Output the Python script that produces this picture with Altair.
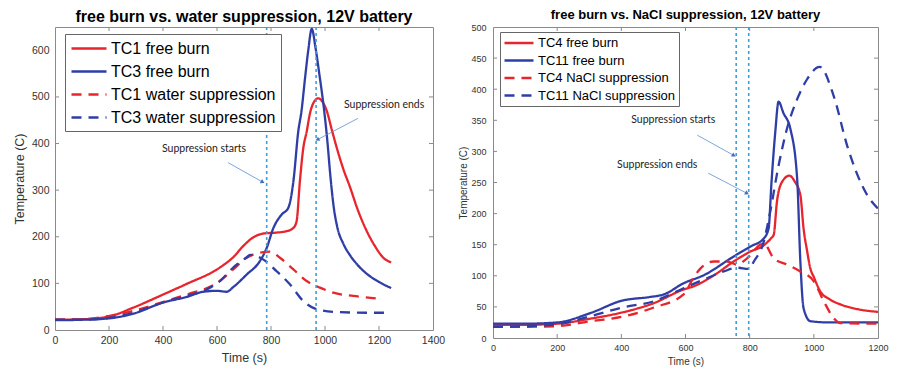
import altair as alt
import pandas as pd

# ---------------- data: left panel (water suppression) ----------------
L_SERIES = ["TC1 free burn", "TC3 free burn", "TC1 water suppression", "TC3 water suppression"]

tc1_free_t = [0, 100, 200, 290, 400, 488, 600, 623, 660, 697, 735, 772, 821, 858, 883, 895, 907, 920, 932, 944, 960, 975, 990, 1006, 1025, 1043, 1068, 1093, 1120, 1154, 1185, 1216, 1245]
tc1_free_v = [22, 23, 29, 48, 76, 99, 130, 139, 156, 180, 199, 207, 209, 212, 219, 234, 319, 392, 425, 464, 490, 497, 490, 471, 430, 392, 345, 306, 260, 213, 180, 155, 145]

tc3_free_t = [0, 100, 200, 290, 400, 488, 549, 600, 636, 660, 710, 759, 784, 809, 840, 864, 883, 901, 913, 926, 938, 951, 965, 980, 995, 1008, 1020, 1032, 1045, 1068, 1093, 1120, 1154, 1200, 1245]
tc3_free_v = [21, 22, 25, 35, 59, 71, 82, 84, 82, 92, 119, 148, 176, 219, 248, 262, 319, 426, 470, 540, 600, 646, 605, 545, 480, 410, 330, 265, 222, 185, 160, 140, 121, 103, 90]

tc1_water_t = [0, 100, 198, 290, 400, 488, 600, 660, 710, 759, 796, 833, 883, 932, 981, 1031, 1105, 1204]
tc1_water_v = [22, 23, 30, 41, 60, 76, 101, 130, 155, 166, 168, 155, 130, 105, 91, 80, 73, 67]

tc3_water_t = [0, 100, 200, 290, 400, 488, 562, 611, 660, 710, 722, 772, 821, 870, 920, 963, 1031, 1154, 1228]
tc3_water_v = [22, 22, 26, 37, 59, 73, 87, 105, 134, 156, 161, 151, 126, 98, 62, 46, 39, 37, 37]

L_VLINES = [784, 967]
L_XTICKS = [0, 200, 400, 600, 800, 1000, 1200, 1400]
L_YTICKS = [0, 100, 200, 300, 400, 500, 600]
L_NOTE_TEXT = ["Suppression starts", "Suppression ends"]
L_NOTE_T = [552, 1219]
L_NOTE_V = [389, 482]
L_ARROW_T1 = [641, 1122]
L_ARROW_V1 = [359, 454]
L_ARROW_T2 = [767, 974]
L_ARROW_V2 = [318, 409]
L_ARROW_ANG = [119, 242]

# ---------------- data: right panel (NaCl suppression) ----------------
R_SERIES = ["TC4 free burn", "TC11 free burn", "TC4 NaCl suppression", "TC11 NaCl suppression"]

tc4_free_t = [0, 75, 200, 303, 402, 501, 594, 625, 657, 698, 750, 802, 844, 866, 875, 885, 901, 924, 940, 958, 968, 979, 989, 1000, 1020, 1050, 1083, 1140, 1200]
tc4_free_v = [21, 21, 23, 31, 41, 56, 78, 83, 91, 104, 123, 139, 149, 160, 166, 219, 251, 261, 252, 230, 176, 140, 112, 98, 75, 62, 54, 46, 42]

tc11_free_t = [0, 100, 200, 303, 402, 490, 532, 594, 657, 750, 802, 844, 859, 868, 880, 890, 905, 927, 948, 958, 968, 989, 1050, 1200]
tc11_free_v = [23, 23, 25, 40, 60, 66, 70, 88, 101, 131, 147, 160, 176, 250, 332, 380, 362, 336, 256, 123, 48, 27, 25, 25]

tc4_nacl_t = [0, 100, 200, 303, 402, 501, 594, 625, 647, 688, 729, 760, 792, 833, 844, 875, 916, 958, 1000, 1031, 1062, 1083, 1200]
tc4_nacl_v = [18, 18, 19, 27, 34, 49, 70, 97, 112, 123, 123, 118, 128, 150, 152, 128, 118, 107, 91, 59, 32, 24, 23]

tc11_nacl_t = [0, 100, 200, 303, 402, 501, 594, 657, 719, 761, 797, 813, 844, 864, 890, 916, 948, 979, 1018, 1062, 1104, 1166, 1200]
tc11_nacl_v = [18, 19, 22, 35, 49, 59, 80, 94, 107, 113, 111, 123, 155, 203, 277, 336, 384, 416, 436, 389, 309, 230, 208]

R_VLINES = [758, 797]
R_XTICKS = [0, 200, 400, 600, 800, 1000, 1200]
R_YTICKS = [0, 50, 100, 150, 200, 250, 300, 350, 400, 450, 500]
R_NOTE_TEXT = ["Suppression starts", "Suppression ends"]
R_NOTE_T = [562, 512]
R_NOTE_V = [351, 278]
R_ARROW_T1 = [637, 671]
R_ARROW_V1 = [326, 265]
R_ARROW_T2 = [749, 790]
R_ARROW_V2 = [294, 233]
R_ARROW_ANG = [119, 118]

RED = "#e8242c"
BLUE = "#2f3ea6"
VLINE = "#3d9fdb"
ARROW = "#5b8ed6"
FRAME = "#8a8a8a"
LABEL = "#333333"


def lines_df(series, ts, vs):
    rows = []
    for s, t, v in zip(series, ts, vs):
        for a, b in zip(t, v):
            rows.append({"series": s, "t": a, "v": b})
    return pd.DataFrame(rows)


def panel(series, ts, vs, xmax, xticks, ymax, yticks, vlines, note_text, note_t, note_v,
          a_t1, a_v1, a_t2, a_v2, a_ang, W, H, title, title_size, tick_size, axis_title_size,
          label_pad_x, title_pad_x, label_pad_y, title_pad_y, leg_x, leg_y, leg_font, leg_len,
          leg_pad, leg_row):
    df = lines_df(series, ts, vs)
    xs = alt.Scale(domain=[0, xmax], nice=False, zero=False)
    ys = alt.Scale(domain=[0, ymax], nice=False, zero=False)
    xaxis = alt.Axis(values=xticks, format="d", grid=False, domain=False, ticks=False, labelFlush=False,
                     labelOverlap=False, labelFontSize=tick_size, labelFont="Liberation Sans",
                     labelColor=LABEL, labelPadding=label_pad_x, titleFontSize=axis_title_size,
                     titleFont="Liberation Sans", titleFontWeight="normal", titleColor=LABEL,
                     titlePadding=title_pad_x)
    yaxis = alt.Axis(values=yticks, format="d", grid=False, domain=False, ticks=False, labelFlush=False,
                     labelOverlap=False, labelFontSize=tick_size, labelFont="Liberation Sans",
                     labelColor=LABEL, labelPadding=label_pad_y, titleFontSize=axis_title_size,
                     titleFont="Liberation Sans", titleFontWeight="normal", titleColor=LABEL,
                     titlePadding=title_pad_y)

    def X(f):
        return alt.X(f, type="quantitative", scale=xs, axis=xaxis, title="Time (s)")

    def Y(f):
        return alt.Y(f, type="quantitative", scale=ys, axis=yaxis, title="Temperature (C)")

    r = leg_font / 2.0
    sym_path = "M-1,0H%.3f" % (leg_len / r - 1)
    legend = alt.Legend(title=None, orient="none", legendX=leg_x, legendY=leg_y,
                        symbolType=sym_path, symbolSize=leg_font * leg_font, symbolStrokeWidth=2.5,
                        labelFontSize=leg_font, labelFont="Liberation Sans", labelColor="black",
                        strokeColor="#666666", fillColor="white", padding=leg_pad,
                        rowPadding=leg_row, labelOffset=leg_len - leg_font + 3, labelLimit=400)

    lines = alt.Chart(df).mark_line(strokeWidth=2.3, clip=True, interpolate="monotone").encode(
        x=X("t"), y=Y("v"),
        color=alt.Color("series:N", scale=alt.Scale(domain=series, range=[RED, BLUE, RED, BLUE]),
                        legend=legend, sort=series),
        strokeDash=alt.StrokeDash("series:N",
                                  scale=alt.Scale(domain=series, range=[[1, 0], [1, 0], [10, 7], [10, 7]]),
                                  legend=legend, sort=series),
    )

    vl = alt.Chart(pd.DataFrame({"t": vlines})).mark_rule(
        color=VLINE, strokeDash=[3, 3], strokeWidth=1.6).encode(x=X("t"))

    notes = alt.Chart(pd.DataFrame({"t": note_t, "v": note_v, "txt": note_text})).mark_text(
        font="Lato", fontSize=10.5, color="#222222").encode(x=X("t"), y=Y("v"), text="txt:N")

    adf = pd.DataFrame({"t1": a_t1, "v1": a_v1, "t2": a_t2, "v2": a_v2, "ang": a_ang})
    arrows = alt.Chart(adf).mark_rule(color=ARROW, strokeWidth=0.8).encode(
        x=X("t1"), y=Y("v1"), x2="t2", y2="v2")
    heads = alt.Chart(adf).mark_point(shape="triangle", filled=True, size=22, color="#3f6fc4",
                                      opacity=1).encode(
        x=X("t2"), y=Y("v2"), angle=alt.Angle("ang:Q", scale=None))

    xt = pd.DataFrame({"t": xticks[1:-1]})
    yt = pd.DataFrame({"v": yticks[1:-1]})
    xb = alt.Chart(xt).mark_rule(color=FRAME).encode(x=X("t"), y=alt.value(H), y2=alt.value(H - 4))
    xtp = alt.Chart(xt).mark_rule(color=FRAME).encode(x=X("t"), y=alt.value(0), y2=alt.value(4))
    yl = alt.Chart(yt).mark_rule(color=FRAME).encode(y=Y("v"), x=alt.value(0), x2=alt.value(4))
    yr = alt.Chart(yt).mark_rule(color=FRAME).encode(y=Y("v"), x=alt.value(W), x2=alt.value(W - 4))

    return alt.layer(lines, vl, arrows, heads, notes, xb, xtp, yl, yr).properties(
        width=W, height=H,
        title=alt.TitleParams(text=title, fontSize=title_size, font="Liberation Sans",
                              fontWeight="bold", anchor="middle", offset=1, color="black"),
    )


left = panel(L_SERIES, [tc1_free_t, tc3_free_t, tc1_water_t, tc3_water_t],
             [tc1_free_v, tc3_free_v, tc1_water_v, tc3_water_v],
             1400, L_XTICKS, 650, L_YTICKS, L_VLINES, L_NOTE_TEXT, L_NOTE_T, L_NOTE_V,
             L_ARROW_T1, L_ARROW_V1, L_ARROW_T2, L_ARROW_V2, L_ARROW_ANG,
             378, 303, "free burn vs. water suppression, 12V battery", 16, 10.5, 12.5,
             5, 6, 6, 5, 10, 7, 16, 35, 5, 5)

right = panel(R_SERIES, [tc4_free_t, tc11_free_t, tc4_nacl_t, tc11_nacl_t],
              [tc4_free_v, tc11_free_v, tc4_nacl_v, tc11_nacl_v],
              1200, R_XTICKS, 500, R_YTICKS, R_VLINES, R_NOTE_TEXT, R_NOTE_T, R_NOTE_V,
              R_ARROW_T1, R_ARROW_V1, R_ARROW_T2, R_ARROW_V2, R_ARROW_ANG,
              385, 311, "free burn vs. NaCl suppression, 12V battery", 13, 9, 10,
              5, 4, 7, 2, 7, 5, 13, 29, 3, 2.5)

chart = alt.hconcat(left, right, spacing=12).resolve_scale(
    x="independent", y="independent", color="independent", strokeDash="independent"
).resolve_legend(color="independent", strokeDash="independent").configure_view(
    stroke=FRAME, strokeWidth=1
).properties(
    padding={"left": 4, "top": 0, "right": 0, "bottom": 0}, background="white"
)

chart.save("out.html", embed_options={"renderer": "svg", "actions": False})
